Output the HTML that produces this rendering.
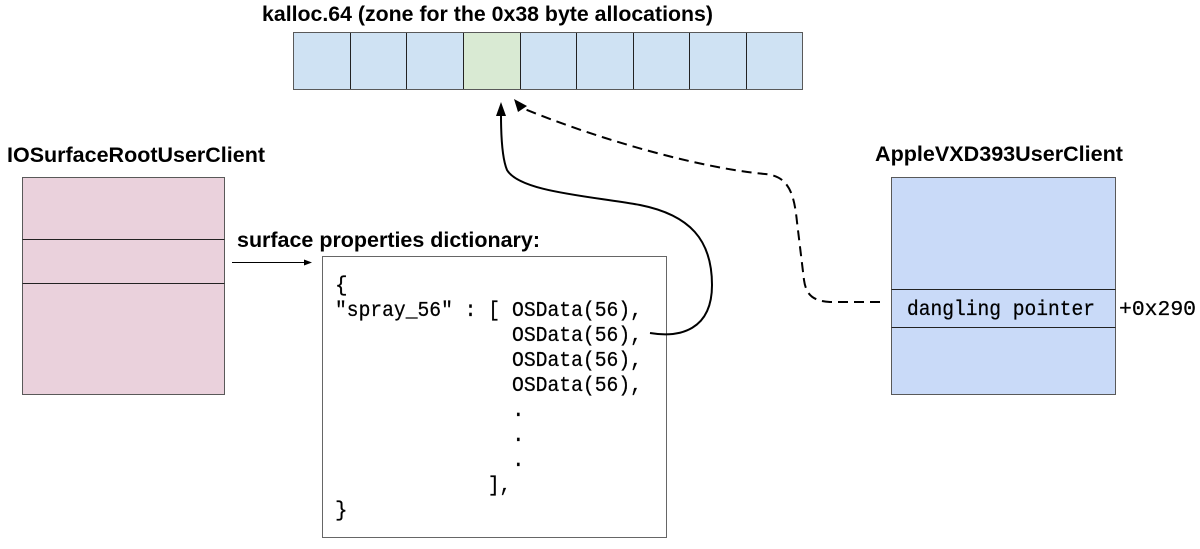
<!DOCTYPE html>
<html>
<head>
<meta charset="utf-8">
<style>
  html, body { margin: 0; padding: 0; background: #ffffff; }
  svg { display: block; }
  .sans { font-family: "Liberation Sans", Arial, sans-serif; font-weight: bold; font-size: 21px; fill: #000; }
  .mono { font-family: "Liberation Mono", "DejaVu Sans Mono", monospace; font-size: 21px; fill: #000; stroke: #000; stroke-width: 0.25; }
</style>
</head>
<body>
<svg width="1200" height="549" viewBox="0 0 1200 549" xmlns="http://www.w3.org/2000/svg">
  <rect x="0" y="0" width="1200" height="549" fill="#ffffff"/>

  <!-- Title -->
  <text class="sans" x="262" y="21" textLength="451" lengthAdjust="spacingAndGlyphs">kalloc.64 (zone for the 0x38 byte allocations)</text>

  <!-- Zone cells -->
  <g stroke-width="1">
    <rect x="293.5" y="32.5" width="509" height="57" fill="#cfe2f3" stroke="#595959"/>
    <rect x="463.5" y="32.5" width="56.5" height="57" fill="#d9ead3" stroke="none"/>
    <line x1="350.5" y1="32.5" x2="350.5" y2="89.5" stroke="#222"/>
    <line x1="406.5" y1="32.5" x2="406.5" y2="89.5" stroke="#222"/>
    <line x1="463.5" y1="32.5" x2="463.5" y2="89.5" stroke="#222"/>
    <line x1="520.5" y1="32.5" x2="520.5" y2="89.5" stroke="#222"/>
    <line x1="576.5" y1="32.5" x2="576.5" y2="89.5" stroke="#222"/>
    <line x1="633.5" y1="32.5" x2="633.5" y2="89.5" stroke="#222"/>
    <line x1="689.5" y1="32.5" x2="689.5" y2="89.5" stroke="#222"/>
    <line x1="746.5" y1="32.5" x2="746.5" y2="89.5" stroke="#222"/>
    <rect x="293.5" y="32.5" width="509" height="57" fill="none" stroke="#595959"/>
  </g>

  <!-- IOSurfaceRootUserClient -->
  <text class="sans" x="7" y="162" textLength="258" lengthAdjust="spacingAndGlyphs">IOSurfaceRootUserClient</text>
  <rect x="22.5" y="177.5" width="202" height="217" fill="#ead1dc" stroke="#595959" stroke-width="1"/>
  <line x1="22.5" y1="239.5" x2="224.5" y2="239.5" stroke="#222" stroke-width="1"/>
  <line x1="22.5" y1="283.5" x2="224.5" y2="283.5" stroke="#222" stroke-width="1"/>

  <!-- small arrow to dictionary -->
  <line x1="232" y1="262.5" x2="306" y2="262.5" stroke="#000" stroke-width="1"/>
  <polygon points="312,262.5 304,259.5 304,265.5" fill="#000"/>

  <!-- dictionary label -->
  <text class="sans" x="237" y="247" textLength="303" lengthAdjust="spacingAndGlyphs">surface properties dictionary:</text>

  <!-- dictionary box -->
  <rect x="322.5" y="256.5" width="344" height="281" fill="#ffffff" stroke="#666666" stroke-width="1"/>

  <g class="mono">
    <text x="335" y="291">{</text>
    <text x="335" y="316" textLength="165" lengthAdjust="spacingAndGlyphs">"spray_56" : [</text>
    <text x="512" y="316" textLength="130" lengthAdjust="spacingAndGlyphs">OSData(56),</text>
    <text x="512" y="341" textLength="130" lengthAdjust="spacingAndGlyphs">OSData(56),</text>
    <text x="512" y="366" textLength="130" lengthAdjust="spacingAndGlyphs">OSData(56),</text>
    <text x="512" y="391" textLength="130" lengthAdjust="spacingAndGlyphs">OSData(56),</text>
    <text x="512" y="416">.</text>
    <text x="512" y="441">.</text>
    <text x="512" y="466">.</text>
    <text x="488" y="491" textLength="23" lengthAdjust="spacingAndGlyphs">],</text>
    <text x="335" y="516">}</text>
  </g>

  <!-- AppleVXD393UserClient -->
  <text class="sans" x="875" y="161" textLength="248" lengthAdjust="spacingAndGlyphs">AppleVXD393UserClient</text>
  <rect x="891.5" y="177.5" width="224" height="217" fill="#c9daf8" stroke="#595959" stroke-width="1"/>
  <line x1="891.5" y1="289.5" x2="1115.5" y2="289.5" stroke="#222" stroke-width="1"/>
  <line x1="891.5" y1="327.5" x2="1115.5" y2="327.5" stroke="#222" stroke-width="1"/>
  <text class="mono" x="907" y="315" textLength="188" lengthAdjust="spacingAndGlyphs">dangling pointer</text>
  <text class="mono" x="1119" y="315" textLength="77" lengthAdjust="spacingAndGlyphs">+0x290</text>

  <!-- solid curved arrow -->
  <path d="M 650 333 C 680 338, 712 330, 712 285 C 712 240, 690 215, 640 205 C 590 196, 520 192, 507 170 C 502 158, 501 135, 501 115"
        fill="none" stroke="#000" stroke-width="2"/>
  <polygon points="501,102 496,116 506,116" fill="#000"/>

  <!-- dashed curved arrow -->
  <path d="M 880 302 L 830 302 C 812 301, 806 294, 804 280 L 797 222 C 794 192, 788 176, 765 174 C 700 168, 600 140, 522 108"
        fill="none" stroke="#000" stroke-width="2" stroke-dasharray="10,6"/>
  <polygon points="514,99 518,112 527,106" fill="#000"/>
</svg>
</body>
</html>
